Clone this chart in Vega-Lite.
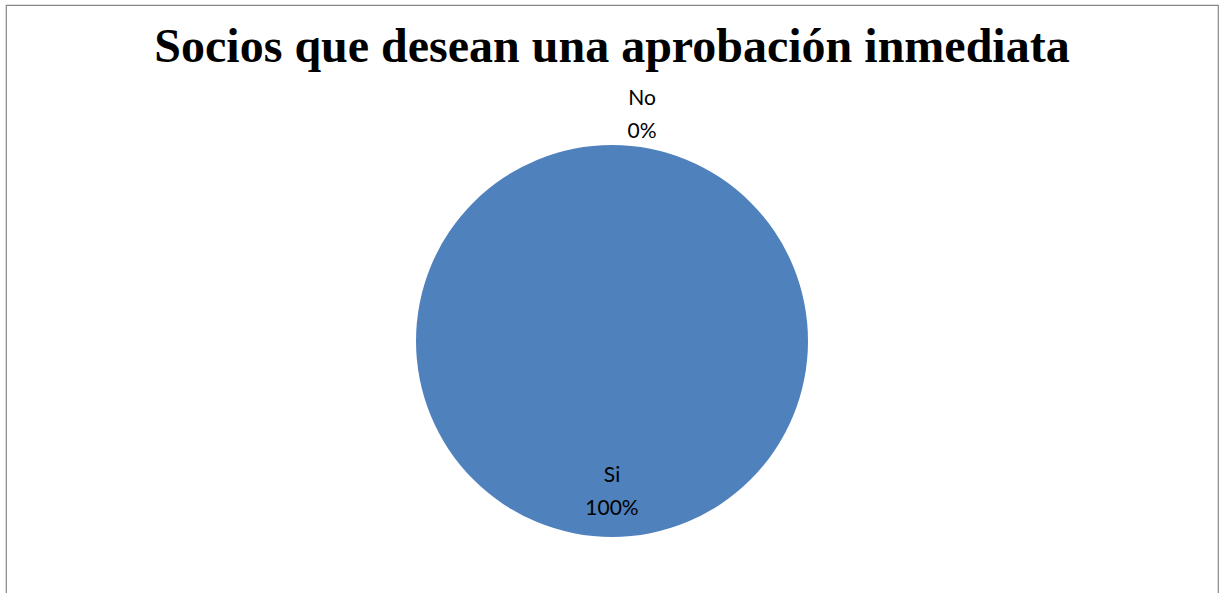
{
  "$schema": "https://vega.github.io/schema/vega-lite/v6.json",
  "autosize": "none",
  "padding": {"left": 6, "top": 5, "right": 1, "bottom": 0},
  "width": 1212,
  "height": 672,
  "background": "white",
  "view": {"stroke": "#868686", "strokeWidth": 1.2},
  "title": {
    "text": "Socios que desean una aprobación inmediata",
    "font": "Liberation Serif",
    "fontSize": 48,
    "fontWeight": "bold",
    "color": "#000000",
    "anchor": "middle",
    "frame": "group",
    "baseline": "alphabetic",
    "offset": -105
  },
  "data": {
    "values": [
      {"label": "No", "value": 0, "pct": "0%"},
      {"label": "Si", "value": 100, "pct": "100%"}
    ]
  },
  "transform": [
    {"calculate": "datum.label + '\\n' + datum.pct", "as": "txt"}
  ],
  "encoding": {
    "theta": {"field": "value", "type": "quantitative", "stack": true}
  },
  "layer": [
    {
      "mark": {"type": "arc", "outerRadius": 196},
      "encoding": {
        "color": {
          "field": "label",
          "type": "nominal",
          "scale": {"domain": ["No", "Si"], "range": ["#C0504D", "#4F81BD"]},
          "legend": null
        }
      }
    },
    {
      "mark": {
        "type": "text",
        "font": "Lato",
        "fontSize": 21,
        "lineBreak": "\n",
        "lineHeight": 33,
        "baseline": "middle",
        "align": "center",
        "color": "#000000",
        "radius": 242,
        "dx": 30
      },
      "encoding": {
        "detail": {"field": "label", "type": "nominal"},
        "text": {"condition": {"test": "datum.label === 'No'", "field": "txt"}, "value": ""}
      }
    },
    {
      "mark": {
        "type": "text",
        "font": "Lato",
        "fontSize": 21,
        "lineBreak": "\n",
        "lineHeight": 33,
        "baseline": "middle",
        "align": "center",
        "color": "#000000",
        "radius": 135
      },
      "encoding": {
        "detail": {"field": "label", "type": "nominal"},
        "text": {"condition": {"test": "datum.label === 'Si'", "field": "txt"}, "value": ""}
      }
    }
  ]
}
